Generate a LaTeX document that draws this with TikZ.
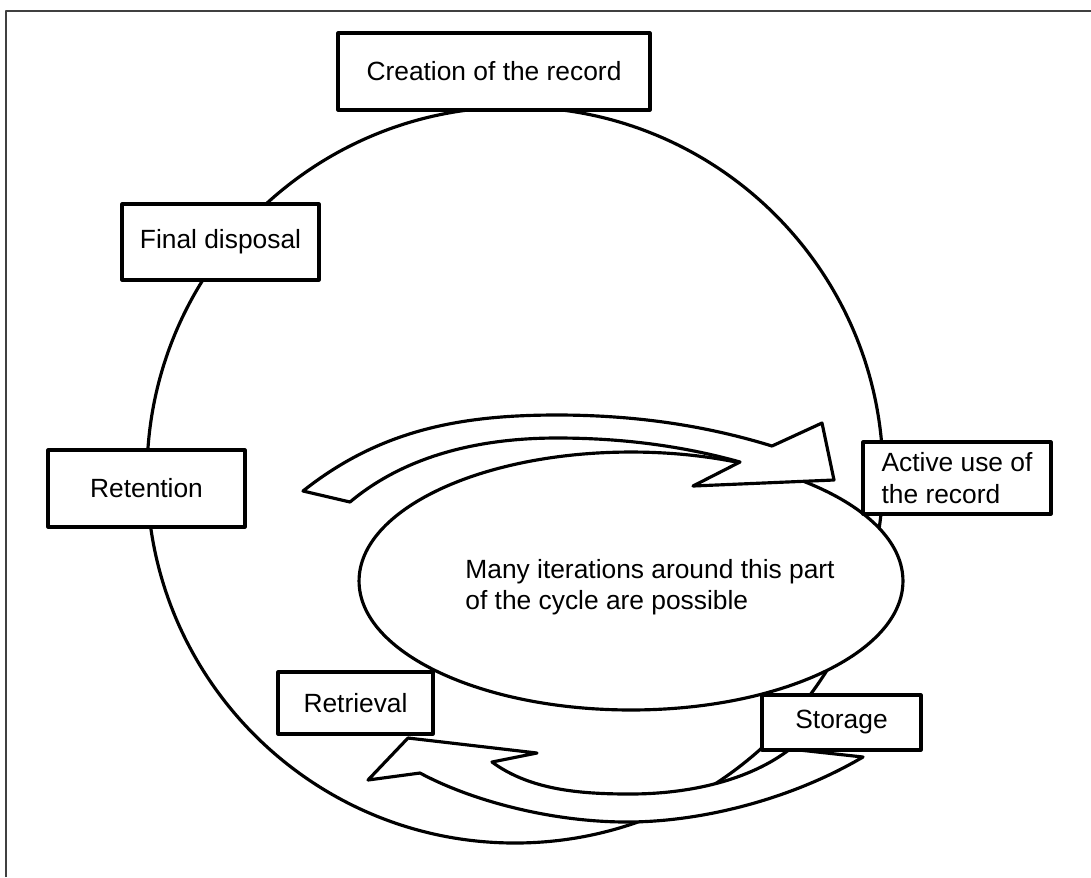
\documentclass[tikz,border=0pt]{standalone}
\usepackage{fontspec}
\setmainfont{Liberation Sans}
\usetikzlibrary{shapes.geometric}
\begin{document}
\begin{tikzpicture}[x=0.02cm, y=-0.02cm, line join=round,
  font=\fontsize{15}{18}\selectfont,
  stage/.style={draw, fill=white, line width=1.8pt, inner sep=0pt},
  band/.style={draw, fill=white, line width=1.8pt},
  frame/.style={draw=black!75, line width=0.9pt}]
  \useasboundingbox (0,0) rectangle (1091,877);
  % page frame (open at right and bottom)
  \draw[frame] (6,877) -- (6,11) -- (1091,11);
  % the life cycle
  \draw[line width=1.8pt] (515,475) circle[radius=368];
  \node[stage, ellipse, minimum width=10.88cm, minimum height=5.16cm] (loop) at (631,581) {};
  \node[align=left] (loopnote) at (650,587) {Many iterations around this part\\of the cycle are possible};
  % curved arrows round the inner loop
  \path[band] (303,491) .. controls (380,430) and (460,415) .. (557,415)
    .. controls (650,415) and (720,430) .. (772,446)
    -- (822,423) -- (834,480) -- (693,486) -- (740,462)
    .. controls (690,448) and (630,438) .. (557,438)
    .. controls (470,438) and (400,460) .. (350,502) -- cycle;
  \path[band] (368,780) -- (408,738) -- (537,753) -- (492,762)
    .. controls (530,790) and (580,794) .. (630,794)
    .. controls (690,794) and (750,780) .. (790,749)
    -- (863,757)
    .. controls (790,800) and (700,822) .. (627,822)
    .. controls (550,822) and (470,800) .. (420,773) -- cycle;
  % stages
  \node[stage, minimum width=6.24cm, minimum height=1.54cm] (create) at (494,71.5) {Creation of the record};
  \node[stage, minimum width=3.94cm, minimum height=1.52cm] (dispose) at (220.5,242) {Final disposal};
  \node[stage, minimum width=3.94cm, minimum height=1.54cm] (retain) at (146.5,488.5) {Retention};
  \node[stage, minimum width=3.76cm, minimum height=1.44cm, align=left] (use) at (957,478) {Active use of\\the record};
  \node[stage, minimum width=3.18cm, minimum height=1.1cm] (store) at (841.5,722.5) {Storage};
  \node[stage, minimum width=3.1cm, minimum height=1.24cm] (fetch) at (355.5,703) {Retrieval};
\end{tikzpicture}
\end{document}
